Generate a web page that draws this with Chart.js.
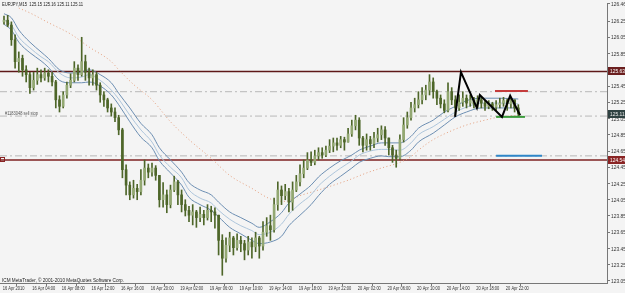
<!DOCTYPE html>
<html>
<head>
<meta charset="utf-8">
<script src="https://cdn.jsdelivr.net/npm/chart.js@4.4.1/dist/chart.umd.min.js"></script>
<style>
  html, body { margin: 0; padding: 0; background: #f4f4f4; }
  #wrap { width: 625px; height: 293px; }
</style>
</head>
<body>
<div id="wrap"><canvas id="chart" width="625" height="293"></canvas></div>
<script>
"use strict";

// header / footer texts
const symbolInfo = "EURJPY,M15  125.15 125.16 125.11 125.11";
const copyright = "ICM MetaTrader, \u00a9 2001-2010 MetaQuotes Software Corp.";
const orderNote = "#1183048 sell stop";

// time axis: one candle = 30 min, a label every 8 candles
const timeLabels = [
  "16 Apr 2010", "16 Apr 04:00", "16 Apr 08:00", "16 Apr 12:00", "16 Apr 16:00",
  "16 Apr 20:00", "19 Apr 02:00", "19 Apr 06:00", "19 Apr 10:00", "19 Apr 14:00",
  "19 Apr 18:00", "19 Apr 22:00", "20 Apr 02:00", "20 Apr 06:00", "20 Apr 10:00",
  "20 Apr 14:00", "20 Apr 18:00", "20 Apr 22:00",
];
const priceTicks = [
  126.46, 126.25, 126.05, 125.85, 125.65, 125.45, 125.25, 125.05, 124.85,
  124.65, 124.45, 124.25, 124.05, 123.85, 123.65, 123.45, 123.25, 123.05,
];

// candles (open = previous close)
const firstOpen = 126.24;
const closes = [
  126.26, 126.20, 126.02, 125.75, 125.79, 125.65, 125.59, 125.43, 125.52, 125.59,
  125.55, 125.61, 125.57, 125.50, 125.28, 125.20, 125.34, 125.46, 125.52, 125.67,
  125.59, 125.75, 125.62, 125.55, 125.59, 125.46, 125.34, 125.28, 125.18, 125.13,
  125.06, 124.91, 124.42, 124.23, 124.11, 124.19, 124.15, 124.29, 124.44, 124.39,
  124.44, 124.35, 124.05, 124.11, 123.99, 124.17, 124.27, 124.11, 123.99, 123.92,
  123.86, 123.90, 123.83, 123.87, 123.83, 123.92, 123.90, 123.86, 123.55, 123.33,
  123.49, 123.58, 123.46, 123.55, 123.51, 123.43, 123.53, 123.47, 123.58, 123.48,
  123.65, 123.73, 123.68, 123.99, 124.17, 124.10, 124.15, 124.02, 124.17, 124.27,
  124.37, 124.44, 124.54, 124.51, 124.59, 124.63, 124.60, 124.66, 124.71, 124.75,
  124.72, 124.79, 124.76, 124.86, 124.96, 125.03, 124.81, 124.72, 124.79, 124.74,
  124.81, 124.85, 124.91, 124.81, 124.69, 124.60, 124.56, 124.79, 124.97, 125.06,
  125.18, 125.22, 125.28, 125.34, 125.40, 125.50, 125.38, 125.30, 125.23, 125.15,
  125.38, 125.28, 125.18, 125.25, 125.30, 125.24, 125.28, 125.23, 125.28, 125.24,
  125.20, 125.23, 125.19, 125.22, 125.24, 125.27, 125.23, 125.28, 125.18, 125.11,
];
const highs = [
  126.31, 126.32, 126.24, 126.08, 125.87, 125.83, 125.70, 125.62, 125.62, 125.67,
  125.65, 125.67, 125.65, 125.62, 125.52, 125.33, 125.38, 125.50, 125.60, 125.75,
  125.71, 126.05, 125.83, 125.67, 125.65, 125.62, 125.49, 125.38, 125.30, 125.23,
  125.18, 125.09, 124.93, 124.48, 124.27, 124.29, 124.24, 124.42, 124.54, 124.49,
  124.50, 124.47, 124.35, 124.26, 124.17, 124.23, 124.34, 124.29, 124.17, 124.05,
  123.97, 123.99, 123.92, 123.96, 123.92, 123.99, 123.97, 123.95, 123.86, 123.62,
  123.58, 123.65, 123.60, 123.63, 123.60, 123.55, 123.60, 123.58, 123.65, 123.60,
  123.78, 123.83, 123.86, 124.07, 124.27, 124.22, 124.24, 124.19, 124.27, 124.35,
  124.48, 124.54, 124.63, 124.64, 124.66, 124.69, 124.69, 124.71, 124.79, 124.81,
  124.81, 124.83, 124.82, 124.93, 125.03, 125.09, 125.06, 124.83, 124.86, 124.83,
  124.88, 124.93, 124.96, 124.95, 124.81, 124.72, 124.66, 124.85, 125.06, 125.13,
  125.25, 125.30, 125.38, 125.43, 125.46, 125.59, 125.55, 125.40, 125.34, 125.28,
  125.49, 125.43, 125.33, 125.34, 125.38, 125.34, 125.34, 125.31, 125.33, 125.31,
  125.27, 125.27, 125.25, 125.27, 125.30, 125.31, 125.29, 125.31, 125.28, 125.22,
];
const lows = [
  126.21, 126.18, 125.95, 125.67, 125.62, 125.57, 125.50, 125.36, 125.40, 125.47,
  125.50, 125.52, 125.50, 125.45, 125.18, 125.13, 125.18, 125.30, 125.43, 125.50,
  125.52, 125.57, 125.52, 125.46, 125.46, 125.40, 125.25, 125.20, 125.13, 125.08,
  125.01, 124.85, 124.32, 124.11, 124.05, 124.07, 124.05, 124.11, 124.23, 124.32,
  124.34, 124.29, 123.96, 123.96, 123.89, 123.95, 124.15, 123.99, 123.90, 123.85,
  123.78, 123.74, 123.71, 123.78, 123.74, 123.80, 123.78, 123.70, 123.37, 123.12,
  123.28, 123.41, 123.37, 123.43, 123.41, 123.31, 123.37, 123.33, 123.41, 123.33,
  123.43, 123.60, 123.55, 123.65, 123.92, 123.99, 124.05, 123.90, 123.92, 124.15,
  124.22, 124.32, 124.42, 124.47, 124.48, 124.54, 124.56, 124.58, 124.63, 124.64,
  124.66, 124.69, 124.66, 124.76, 124.83, 124.91, 124.72, 124.64, 124.66, 124.66,
  124.69, 124.76, 124.79, 124.72, 124.60, 124.51, 124.45, 124.54, 124.76, 124.93,
  125.03, 125.13, 125.18, 125.23, 125.28, 125.34, 125.30, 125.22, 125.18, 125.12,
  125.13, 125.22, 125.09, 125.15, 125.20, 125.18, 125.20, 125.18, 125.18, 125.18,
  125.15, 125.17, 125.15, 125.15, 125.18, 125.20, 125.15, 125.18, 125.13, 125.08,
];

const bandSlots = [
  0, 2, 4, 7, 10, 12, 15, 18, 21, 23, 26, 29, 31, 34, 37, 40, 42, 45, 48, 50,
  53, 56, 58, 61, 64, 67, 69, 72, 75, 77, 80, 83, 85, 88, 91, 94, 96, 99, 102, 104,
  107, 110, 112, 116, 119, 122, 125, 129, 134, 139,
];
const bandUpper = [
  126.34, 126.29, 126.14, 125.99, 125.87, 125.79, 125.65, 125.61, 125.62, 125.65,
  125.59, 125.49, 125.36, 125.18, 124.99, 124.85, 124.69, 124.54, 124.39, 124.26,
  124.17, 124.11, 124.02, 123.90, 123.83, 123.76, 123.71, 123.78, 123.89, 124.01,
  124.12, 124.23, 124.33, 124.44, 124.53, 124.60, 124.66, 124.71, 124.75, 124.75,
  124.75, 124.83, 124.93, 125.03, 125.13, 125.20, 125.27, 125.30, 125.30, 125.29,
];
const bandMiddle = [
  126.27, 126.20, 126.05, 125.92, 125.81, 125.75, 125.61, 125.55, 125.56, 125.59,
  125.52, 125.40, 125.29, 125.09, 124.91, 124.76, 124.60, 124.45, 124.32, 124.17,
  124.07, 124.01, 123.92, 123.81, 123.73, 123.67, 123.62, 123.65, 123.75, 123.87,
  124.00, 124.11, 124.22, 124.34, 124.44, 124.53, 124.60, 124.65, 124.67, 124.67,
  124.66, 124.75, 124.85, 124.95, 125.04, 125.13, 125.19, 125.24, 125.24, 125.23,
];
const bandLower = [
  126.21, 126.14, 125.99, 125.86, 125.76, 125.68, 125.52, 125.49, 125.49, 125.50,
  125.45, 125.34, 125.22, 125.01, 124.82, 124.69, 124.53, 124.38, 124.23, 124.08,
  123.99, 123.92, 123.84, 123.71, 123.63, 123.55, 123.51, 123.53, 123.60, 123.73,
  123.86, 123.99, 124.10, 124.24, 124.34, 124.44, 124.51, 124.56, 124.59, 124.58,
  124.58, 124.66, 124.76, 124.87, 124.97, 125.07, 125.13, 125.18, 125.18, 125.18,
];

// slow moving average (dotted)
const slowSlots = [
  4, 7, 12, 18, 23, 29, 31, 35, 40, 45, 50, 56, 61, 67, 72, 76, 80, 85, 93, 98,
  102, 107, 110, 112, 116, 121, 125, 130, 134, 139,
];
const slowMa = [
  126.41, 126.35, 126.23, 126.09, 125.93, 125.75, 125.65, 125.47, 125.28, 125.01,
  124.79, 124.56, 124.35, 124.19, 124.06, 124.03, 124.10, 124.17, 124.29, 124.38,
  124.44, 124.51, 124.58, 124.66, 124.79, 124.90, 124.97, 125.03, 125.07, 125.09,
];

// objects drawn by hand on the chart
const zigzagSlots = [121.9, 123.5, 127.8, 128.6, 134.6, 136.8, 139.5];
const zigzagPrices = [125.07, 125.62, 125.18, 125.34, 125.07, 125.33, 125.09];
const levelLines = [125.63, 124.54];
const orderLines = [125.38, 125.08, 124.59];
const lastPrice = 125.11;
const targetRed = { from: 132.7, to: 141.6, price: 125.39 };
const targetGreen = { from: 133.0, to: 140.8, price: 125.07 };
const targetBlue = { from: 133.0, to: 145.4, price: 124.59 };

const xMin = -1.08;
const xMax = 162.97;
const yMin = 123.025;
const yMax = 126.472;

const opens = closes.map((c, i) => (i === 0 ? firstOpen : closes[i - 1]));
const face = "'Liberation Sans', Arial, sans-serif";

function pts(xs, ys) {
  return xs.map((x, i) => ({ x: x, y: ys[i] }));
}

function hline(price, color, width, dash, order, from, to) {
  return {
    type: "line",
    data: [{ x: from ?? xMin, y: price }, { x: to ?? xMax, y: price }],
    borderColor: color,
    borderWidth: width,
    borderDash: dash || [],
    pointRadius: 0,
    order: order,
  };
}

// MetaTrader uses a very narrow bitmap font, so squeeze text to the width it takes there
function squeezed(c, text, x, y, size, refText, refWidth) {
  c.font = size + "px " + face;
  const sx = refWidth / c.measureText(refText).width;
  c.save();
  c.translate(x, y);
  c.scale(sx, 1);
  c.fillText(text, 0, 0);
  c.restore();
}

const chromePlugin = {
  id: "chrome",
  beforeDraw(chart) {
    const c = chart.ctx;
    c.save();
    c.fillStyle = "#f4f4f4";
    c.fillRect(0, 0, chart.width, chart.height);
    c.restore();
  },
  afterDraw(chart) {
    const c = chart.ctx;
    const xs = chart.scales.x;
    const ys = chart.scales.y;
    const area = chart.chartArea;
    c.save();
    c.textAlign = "left";
    c.textBaseline = "middle";

    // axis labels
    c.fillStyle = "#333";
    ys.ticks.forEach((t) => {
      const y = ys.getPixelForValue(t.value);
      squeezed(c, t.value.toFixed(2), area.right + 4, y + 0.5, 6, "126.25", 15);
    });
    xs.ticks.forEach((t, i) => {
      const x = xs.getPixelForValue(t.value);
      squeezed(c, timeLabels[i], x + 0.5, 288.5, 5.5, "16 Apr 04:00", 23);
    });

    // price boxes on the right axis
    const box = (price, bg, fg) => {
      const y = Math.round(ys.getPixelForValue(price));
      c.fillStyle = bg;
      c.fillRect(area.right + 1, y - 4, chart.width - area.right - 1, 8);
      c.fillStyle = fg;
      squeezed(c, price.toFixed(2), area.right + 3, y + 0.5, 6, "126.25", 15);
    };
    box(levelLines[0], "#6b1f1f", "#ffffff");
    box(levelLines[1], "#8a2424", "#ffffff");
    box(lastPrice, "#2f4242", "#e8e8e8");

    // little marker at the left end of the lower level
    const yl = Math.round(ys.getPixelForValue(levelLines[1]));
    c.strokeStyle = "#8a2424";
    c.lineWidth = 1;
    c.strokeRect(0.5, yl - 2.5, 4, 4);

    c.fillStyle = "#222";
    squeezed(c, symbolInfo, 2, 4.5, 5.5, symbolInfo, 81);
    squeezed(c, copyright, 2, 280, 5.5, copyright, 122);

    c.fillStyle = "#555";
    c.textBaseline = "alphabetic";
    squeezed(c, orderNote, 5, ys.getPixelForValue(orderLines[1]) - 1.5, 5, orderNote, 33);
    c.restore();
  },
};

const bodyColors = closes.map((c, i) => (c >= opens[i] ? "#93a872" : "#4e6629"));

new Chart(document.getElementById("chart"), {
  type: "bar",
  data: {
    datasets: [
      {
        type: "bar",
        data: lows.map((l, i) => ({ x: i, y: [l, highs[i]] })),
        backgroundColor: "#4e6629",
        barThickness: 1,
        grouped: false,
        order: 4,
      },
      {
        type: "bar",
        data: closes.map((c, i) => ({ x: i, y: [opens[i], c] })),
        backgroundColor: bodyColors,
        borderWidth: 0,
        barThickness: 2,
        minBarLength: 1,
        grouped: false,
        order: 3,
      },
      {
        type: "line",
        data: pts(bandSlots, bandUpper),
        borderColor: "#6d8fb3",
        borderWidth: 1,
        pointRadius: 0,
        cubicInterpolationMode: "monotone",
        order: 5,
      },
      {
        type: "line",
        data: pts(bandSlots, bandMiddle),
        borderColor: "#aec6dc",
        borderWidth: 1,
        pointRadius: 0,
        cubicInterpolationMode: "monotone",
        order: 5,
      },
      {
        type: "line",
        data: pts(bandSlots, bandLower),
        borderColor: "#6d8fb3",
        borderWidth: 1,
        pointRadius: 0,
        cubicInterpolationMode: "monotone",
        order: 5,
      },
      {
        type: "line",
        data: pts(slowSlots, slowMa),
        borderColor: "#e6a07e",
        borderWidth: 1,
        borderDash: [1, 2.5],
        pointRadius: 0,
        cubicInterpolationMode: "monotone",
        order: 5,
      },
      hline(orderLines[0], "#b8b8b8", 1, [7, 3, 2, 3], 10),
      hline(orderLines[1], "#b8b8b8", 1, [7, 3, 2, 3], 10),
      hline(orderLines[2], "#b8b8b8", 1, [7, 3, 2, 3], 10),
      hline(levelLines[0], "#5e1818", 1.5, null, 9),
      hline(levelLines[1], "#7e2222", 1.5, null, 9),
      hline(targetRed.price, "#c43c3c", 2, null, 2, targetRed.from, targetRed.to),
      hline(targetGreen.price, "#3b9a3b", 2, null, 2, targetGreen.from, targetGreen.to),
      hline(targetBlue.price, "#2e86c8", 2, null, 2, targetBlue.from, targetBlue.to),
      {
        type: "line",
        data: pts(zigzagSlots, zigzagPrices),
        borderColor: "#000000",
        borderWidth: 2,
        pointRadius: 0,
        order: 1,
      },
    ],
  },
  options: {
    responsive: false,
    animation: false,
    devicePixelRatio: 1,
    layout: { padding: { top: 3, left: 0, right: 0, bottom: 0 } },
    plugins: { legend: { display: false }, tooltip: { enabled: false } },
    scales: {
      x: {
        type: "linear",
        min: xMin,
        max: xMax,
        offset: false,
        afterBuildTicks: (s) => {
          s.ticks = timeLabels.map((_, i) => ({ value: i * 8 - 0.5 }));
        },
        afterFit: (s) => {
          s.height = 10;
        },
        ticks: { display: false, autoSkip: false, maxRotation: 0 },
        grid: { display: true, drawOnChartArea: false, drawTicks: true, tickLength: 3, color: "#777" },
        border: { display: true, color: "#777" },
      },
      y: {
        type: "linear",
        position: "right",
        min: yMin,
        max: yMax,
        afterBuildTicks: (s) => {
          s.ticks = priceTicks.map((v) => ({ value: v }));
        },
        afterFit: (s) => {
          s.width = 18;
        },
        ticks: { display: false, autoSkip: false },
        grid: { display: true, drawOnChartArea: false, drawTicks: true, tickLength: 3, color: "#777" },
        border: { display: true, color: "#777" },
      },
    },
  },
  plugins: [chromePlugin],
});
</script>
</body>
</html>
